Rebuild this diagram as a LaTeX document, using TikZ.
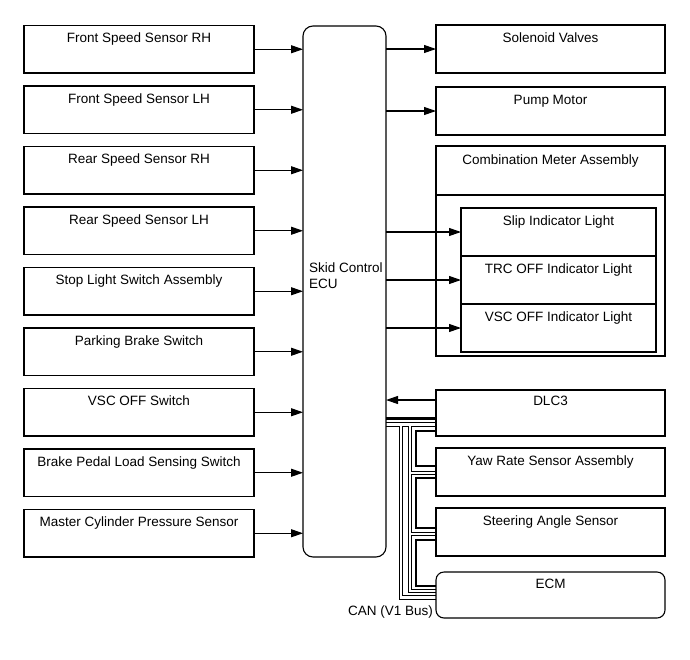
\documentclass[tikz,border=0pt]{standalone}
\usepackage{fontspec}
\setmainfont{Liberation Sans}
\usetikzlibrary{arrows.meta,backgrounds}
\begin{document}
\begin{tikzpicture}[x=1pt,y=-1pt,
  box/.style={draw, line width=1.1pt, anchor=north west, inner sep=0pt, outer sep=0pt},
  lbox/.style={box, minimum width=230pt, minimum height=47.5pt},
  rbox/.style={box, minimum width=229pt, minimum height=48pt},
  lbl/.style={anchor=base, inner sep=0pt, font=\fontsize{13.5}{16}\selectfont},
  arr/.style={line width=1.1pt, -{Triangle[length=12pt,width=8pt]}},
  canthick/.style={line width=2.6pt},
  canouter/.style={line width=4.6pt},
  caninner/.style={line width=2.4pt, white}
]
\useasboundingbox (0,0) rectangle (690,659);

% ECU
\node[box, rounded corners=10pt, minimum width=83pt, minimum height=531pt] (ecu) at (303,26) {};
\node[anchor=north west, inner sep=0pt, align=left, font=\fontsize{13.5}{16}\selectfont] (ecut) at (309,263) {Skid Control\\ECU};

% left boxes
\foreach \i/\t/\txt in {1/25.5/Front Speed Sensor RH, 2/86/Front Speed Sensor LH, 3/146.5/Rear Speed Sensor RH, 4/207/Rear Speed Sensor LH, 5/267.5/Stop Light Switch Assembly, 6/328/Parking Brake Switch, 7/388.5/VSC OFF Switch, 8/449/Brake Pedal Load Sensing Switch, 9/509.5/Master Cylinder Pressure Sensor}{
  \node[lbox] (l\i) at (24,\t) {};
  \node[lbl] (lt\i) at ([yshift=-17pt]l\i.north) {\txt};
  \draw[arr] (l\i.east) -- (l\i.east -| ecu.west);
}

% right boxes
\node[rbox] (sol) at (436,25) {};
\node[lbl] (solt) at ([yshift=-17pt]sol.north) {Solenoid Valves};
\node[rbox] (pump) at (436,87) {};
\node[lbl] (pumpt) at ([yshift=-17pt]pump.north) {Pump Motor};
\draw[arr] (ecu.east |- sol.west) -- (sol.west);
\draw[arr] (ecu.east |- pump.west) -- (pump.west);

\node[box, minimum width=229pt, minimum height=210pt] (cm) at (436,146) {};
\node[box, minimum width=229pt, minimum height=49pt] (cmh) at (436,146) {};
\node[lbl] (cmt) at ([yshift=-18pt]cmh.north) {Combination Meter Assembly};
\foreach \i/\t/\txt in {1/208/Slip Indicator Light, 2/256/TRC OFF Indicator Light, 3/304/VSC OFF Indicator Light}{
  \node[box, minimum width=195pt, minimum height=48pt] (in\i) at (461,\t) {};
  \node[lbl] (int\i) at ([yshift=-17pt]in\i.north) {\txt};
  \draw[arr] (ecu.east |- in\i.west) -- (in\i.west);
}

\node[box, minimum width=229pt, minimum height=46pt] (dlc) at (436,390) {};
\node[lbl] (dlct) at ([yshift=-15pt]dlc.north) {DLC3};
\node[rbox] (yaw) at (436,448) {};
\node[lbl] (yawt) at ([yshift=-17pt]yaw.north) {Yaw Rate Sensor Assembly};
\node[rbox] (steer) at (436,508) {};
\node[lbl] (steert) at ([yshift=-17pt]steer.north) {Steering Angle Sensor};
\node[box, rounded corners=8pt, minimum width=229pt, minimum height=46pt] (ecm) at (436,572) {};
\node[lbl] (ecmt) at ([yshift=-16pt]ecm.north) {ECM};

\coordinate (dlcin) at ([yshift=-10pt]dlc.north west);
\draw[arr] (dlcin) -- (dlcin -| ecu.east);

\node[lbl, anchor=base east] (can) at (433,615) {CAN (V1 Bus)};

% CAN wiring
\coordinate (t0) at (416,418.5);
\coordinate (t1) at (416,431);
\coordinate (t2) at (416,466);
\coordinate (t3) at (416,478);
\coordinate (t4) at (416,528);
\coordinate (t5) at (416,540);
\coordinate (t6) at (416,586);
\coordinate (d0) at (401,424.5);
\coordinate (d1) at (410,424.5);
\coordinate (d2) at (401,597.5);
\coordinate (d3) at (410,591);
\coordinate (b1) at (410,473);
\coordinate (b2) at (410,534);
\begin{scope}[on background layer]
  \fill[white] (0,0) rectangle (690,659);
  \draw[canthick] (ecu.east |- t0) -- (dlc.west |- t0);
  \draw[canthick] (dlc.west |- t1) -- (t1) -- (t2) -- (yaw.west |- t2);
  \draw[canthick] (yaw.west |- t3) -- (t3) -- (t4) -- (steer.west |- t4);
  \draw[canthick] (steer.west |- t5) -- (t5) -- (t6) -- (ecm.west |- t6);
  \foreach \s in {canouter, caninner}{
    \draw[\s] (ecu.east |- d0) -- (dlc.west |- d0);
    \draw[\s] (d0) -- (d2) -- (ecm.west |- d2);
    \draw[\s] (d1) -- (d3) -- (ecm.west |- d3);
    \draw[\s] (b1) -- (yaw.west |- b1);
    \draw[\s] (b2) -- (steer.west |- b2);
  }
\end{scope}
\end{tikzpicture}
\end{document}
